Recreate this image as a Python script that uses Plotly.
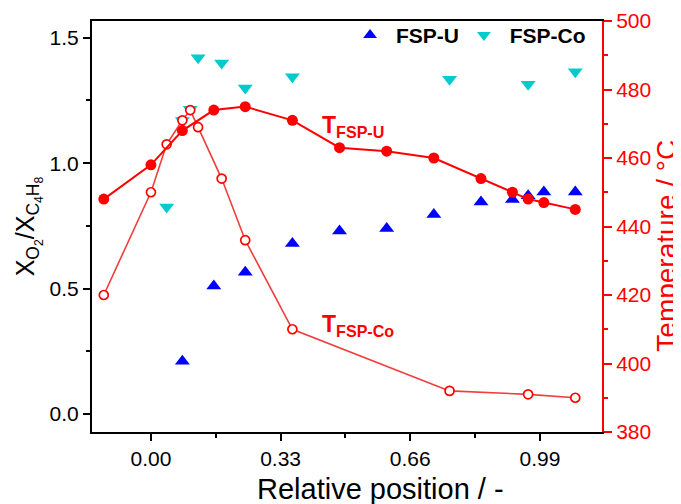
import plotly.graph_objects as go

# ---- data ----
x_temp_u = [-0.12, 0.00, 0.08, 0.16, 0.24, 0.36, 0.48, 0.60, 0.72, 0.84, 0.92, 0.96, 1.00, 1.08]
temp_u = [448, 458, 468, 474, 475, 471, 463, 462, 460, 454, 450, 448, 447, 445]

x_temp_co = [-0.12, 0.00, 0.04, 0.08, 0.10, 0.12, 0.18, 0.24, 0.36, 0.76, 0.96, 1.08]
temp_co = [420, 450, 464, 471, 474, 469, 454, 436, 410, 392, 391, 390]

x_ratio_u = [0.08, 0.16, 0.24, 0.36, 0.48, 0.60, 0.72, 0.84, 0.92, 0.96, 1.00, 1.08]
ratio_u = [0.21, 0.51, 0.565, 0.68, 0.73, 0.74, 0.795, 0.845, 0.855, 0.87, 0.885, 0.885]

x_ratio_co = [0.04, 0.08, 0.10, 0.12, 0.18, 0.24, 0.36, 0.76, 0.96, 1.08]
ratio_co = [0.825, 1.17, 1.215, 1.42, 1.40, 1.30, 1.345, 1.335, 1.315, 1.365]

x_ticks = [0.00, 0.33, 0.66, 0.99]
x_ticklabels = ["0.00", "0.33", "0.66", "0.99"]

FONT = "Arial, 'Liberation Sans', sans-serif"
RED = "#ff0000"

fig = go.Figure()

fig.add_trace(go.Scatter(
    x=x_ratio_u, y=ratio_u, mode="markers", name=" FSP-U",
    marker=dict(symbol="triangle-up", size=13, color="#0000ff"),
    yaxis="y"))
fig.add_trace(go.Scatter(
    x=x_ratio_co, y=ratio_co, mode="markers", name=" FSP-Co",
    marker=dict(symbol="triangle-down", size=13, color="#00cccc"),
    yaxis="y"))

fig.add_trace(go.Scatter(
    x=x_temp_co, y=temp_co, mode="lines+markers", showlegend=False,
    line=dict(color="rgba(240,40,40,0.9)", width=1.6),
    marker=dict(symbol="circle", size=9, color="white",
                line=dict(color=RED, width=1.7)),
    yaxis="y2"))
fig.add_trace(go.Scatter(
    x=x_temp_u, y=temp_u, mode="lines+markers", showlegend=False,
    line=dict(color=RED, width=2),
    marker=dict(symbol="circle", size=11, color=RED),
    yaxis="y2"))

fig.add_annotation(x=0.43, y=469.2, xref="x", yref="y2", xanchor="left", yanchor="middle",
                   text="<b>T<sub>FSP-U</sub></b>", showarrow=False,
                   font=dict(family=FONT, size=23, color=RED))
fig.add_annotation(x=0.43, y=411.2, xref="x", yref="y2", xanchor="left", yanchor="middle",
                   text="<b>T<sub>FSP-Co</sub></b>", showarrow=False,
                   font=dict(family=FONT, size=23, color=RED))

# axis titles placed as in the reference
fig.add_annotation(x=0.566, y=0, xref="paper", yref="paper", xanchor="center", yanchor="top",
                   yshift=-39, text="Relative position / -", showarrow=False,
                   font=dict(family=FONT, size=29, color="black"))
fig.add_annotation(x=1.126, y=0.454, xref="paper", yref="paper", xanchor="center", yanchor="middle",
                   textangle=-90, text="Temperature / °C", showarrow=False,
                   font=dict(family=FONT, size=28, color=RED))

# The page body has an 8px margin, so the figure is sized to fit the window.
fig.update_layout(
    width=673, height=496,
    margin=dict(l=84, r=79, t=13, b=72, autoexpand=False),
    paper_bgcolor="white", plot_bgcolor="white",
    font=dict(family=FONT, size=21, color="black"),
    showlegend=True,
    legend=dict(orientation="h", x=0.506, y=1.015, xanchor="left", yanchor="top",
                font=dict(family=FONT, size=21, color="black", weight="bold"),
                bgcolor="rgba(0,0,0,0)", itemsizing="constant"),
    xaxis=dict(range=[-0.15, 1.148], tickmode="array", tickvals=x_ticks, ticktext=x_ticklabels,
               automargin=False,
               showline=True, linecolor="black", linewidth=2, mirror=True,
               ticks="outside", ticklen=7, tickwidth=2, tickcolor="black",
               minor=dict(tickmode="array", tickvals=[0.165, 0.495, 0.825, 1.155],
                          ticks="outside", ticklen=4, tickwidth=2, tickcolor="black"),
               showgrid=False, zeroline=False,
               tickfont=dict(size=21)),
    yaxis=dict(range=[-0.072, 1.567], tickmode="array", tickvals=[0, 0.5, 1.0, 1.5],
               ticktext=["0.0", "0.5", "1.0", "1.5"],
               automargin=False,
               showline=True, linecolor="black", linewidth=2,
               ticks="outside", ticklen=7, tickwidth=2, tickcolor="black",
               minor=dict(tickmode="array", tickvals=[0.25, 0.75, 1.25],
                          ticks="outside", ticklen=4, tickwidth=2, tickcolor="black"),
               showgrid=False, zeroline=False,
               tickfont=dict(size=21),
               title=dict(text="X<sub>O<sub>2</sub></sub>/X<sub>C<sub>4</sub>H<sub>8</sub></sub>",
                          font=dict(size=25), standoff=8)),
    yaxis2=dict(range=[380, 500], overlaying="y", side="right", dtick=20, tick0=380,
                automargin=False,
                showline=True, linecolor=RED, linewidth=2,
                ticks="outside", ticklen=8, tickwidth=2, tickcolor=RED,
                minor=dict(dtick=10, ticks="outside", ticklen=4, tickwidth=2, tickcolor=RED),
                showgrid=False, zeroline=False,
                tickfont=dict(size=21, color=RED)),
)

fig.write_html("out.html")
